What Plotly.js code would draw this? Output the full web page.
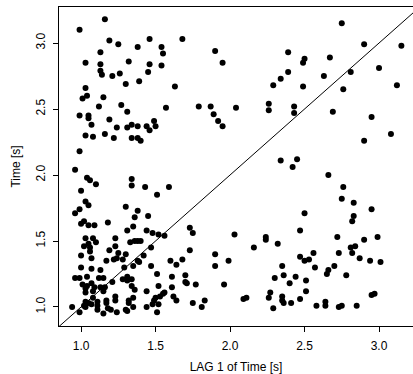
<!DOCTYPE html>
<html>
<head>
<meta charset="utf-8">
<script src="https://cdn.plot.ly/plotly-3.0.1.min.js"></script>
<style>
html,body{margin:0;padding:0;background:#fff;overflow:hidden;}
#chart{width:413px;height:374px;}
</style>
</head>
<body>
<div id="chart"></div>
<script>
// Lag plot: x = previous time value, y = current time value (seconds)
var lagTime = [
1.16,0.99,1.19,1.25,1.46,1.38,1.13,1.03,1.13,1.32,1.46,1.13,1.14,1.21,1.26,1.45,1.30,1.39,1.03,1.04,
1.01,1.15,1.27,1.12,1.31,0.99,1.05,1.05,1.19,1.49,1.07,1.34,1.38,1.31,1.44,1.46,1.50,1.24,1.03,1.08,
1.16,1.22,1.34,1.38,1.40,0.99,1.68,1.54,1.55,1.54,1.90,1.95,1.63,1.57,1.79,1.87,1.89,1.92,1.95,2.04,
2.75,2.90,3.15,2.39,2.67,2.50,2.49,3.00,2.39,2.34,2.63,2.81,2.29,2.49,2.76,3.12,2.26,2.26,2.43,2.43,
2.69,2.95,3.08,2.90,2.34,2.45,2.42,2.66,0.96,1.04,1.06,1.10,1.00,1.34,1.34,1.43,1.59,1.51,1.03,1.05,
0.99,0.96,1.30,1.38,1.36,1.45,1.02,1.00,1.05,1.09,1.18,1.35,1.31,1.44,1.48,1.52,1.56,1.73,1.75,1.03,
1.08,1.10,1.05,1.02,1.06,1.23,1.23,1.19,1.33,1.36,1.38,1.40,1.47,1.73,1.30,1.42,1.38,1.39,1.35,1.29,
1.47,1.60,1.64,1.68,1.51,1.61,1.70,1.70,1.71,1.77,1.34,1.31,1.34,1.36,1.52,1.61,1.44,1.56,1.55,1.62,
1.64,1.53,1.50,1.49,1.52,1.48,1.44,1.51,1.32,1.35,1.32,1.35,1.30,1.75,
1.22,1.00,1.07,1.17,1.24,1.28,1.00,1.07,1.13,0.99,1.04,0.96,1.12,1.15,1.21,1.28,1.31,1.01,1.04,1.07,
1.09,1.13,1.03,1.15,1.16,1.08,1.03,1.23,1.23,1.17,1.08,1.03,1.07,1.02,1.03,0.94,1.11,1.11,0.99,1.18,
1.20,1.24,1.15,1.05,1.11,1.17,1.31,1.06,1.25,
2.76,2.75,2.83,2.83,2.82,2.95,2.50,2.47,2.72,2.90,2.99,2.03,2.24,2.24,2.32,2.16,2.56,2.47,2.50,2.53,
2.73,2.81,2.84,2.82,2.87,2.94,3.01,1.90,1.99,1.90,2.35,2.57,2.70,2.66,2.65,2.78,2.36,2.30,2.44,2.40,
2.51,1.96,2.51,2.27,2.26,2.35,2.35,2.36,2.41,2.47,2.09,2.11,1.83,1.81,2.29,2.58,2.64,2.64,2.73,2.75,
2.85,2.95,2.97
];
var time = [
3.18,3.10,3.02,2.99,3.03,2.97,2.93,2.85,2.84,2.86,2.84,2.79,2.76,2.75,2.77,2.78,2.69,2.71,2.66,2.60,
2.58,2.59,2.53,2.52,2.48,2.45,2.45,2.43,2.42,2.41,2.38,2.38,2.37,2.36,2.37,2.34,2.37,2.36,2.30,2.29,
2.31,2.28,2.28,2.28,2.26,2.18,3.03,2.97,2.92,2.83,2.94,2.85,2.67,2.51,2.52,2.52,2.46,2.41,2.37,2.51,
3.15,2.99,2.98,2.93,2.89,2.88,2.85,2.81,2.78,2.73,2.75,2.78,2.68,2.67,2.65,2.68,2.54,2.49,2.52,2.47,
2.48,2.44,2.31,2.26,2.11,2.12,2.06,2.00,2.04,1.98,1.96,1.93,1.88,1.97,1.92,1.91,1.91,1.85,1.80,1.77,
1.74,1.71,1.76,1.73,1.68,1.69,1.65,1.63,1.62,1.62,1.64,1.61,1.58,1.58,1.56,1.55,1.54,1.60,1.56,1.52,
1.52,1.49,1.48,1.46,1.45,1.52,1.46,1.43,1.49,1.50,1.50,1.50,1.45,1.43,1.40,1.39,1.35,1.34,1.31,1.30,
1.31,1.35,1.32,1.36,1.25,1.23,1.24,1.19,1.18,1.17,1.21,1.20,1.16,1.13,1.16,1.15,1.12,1.11,1.10,1.08,
1.05,1.08,1.07,1.05,1.02,1.02,1.00,0.96,1.05,1.07,1.03,1.00,0.98,1.03,
1.36,1.39,1.37,1.35,1.37,1.36,1.30,1.29,1.28,1.22,1.23,1.22,1.22,1.22,1.19,1.21,1.23,1.17,1.16,1.18,
1.15,1.15,1.14,1.12,1.15,1.12,1.11,1.08,1.05,1.05,1.07,1.04,1.02,1.01,1.00,1.00,1.01,0.98,0.96,0.99,
0.98,0.96,0.95,1.03,1.04,1.03,0.97,1.42,1.41,
1.91,1.82,1.79,1.69,1.65,1.74,1.71,1.58,1.53,1.51,1.53,1.55,1.53,1.51,1.48,1.45,1.41,1.38,1.35,1.36,
1.41,1.45,1.46,1.41,1.37,1.35,1.34,1.40,1.35,1.31,1.31,1.30,1.31,1.28,1.25,1.24,1.24,1.22,1.23,1.18,
1.20,1.17,1.12,1.11,1.07,1.08,1.05,1.03,1.03,1.06,1.06,1.07,1.05,1.00,0.99,1.01,1.04,1.01,1.00,1.01,
1.01,1.09,1.10
];
var tickValues = [1.0, 1.5, 2.0, 2.5, 3.0];
var tickLabels = ["1.0", "1.5", "2.0", "2.5", "3.0"];
var xTitle = "LAG 1 of Time [s]";
var yTitle = "Time [s]";

var xRange = [0.852, 3.228];
var yRange = [0.856, 3.273];

var trace = {
  x: lagTime,
  y: time,
  type: 'scatter',
  mode: 'markers',
  marker: {color: '#000', size: 6, line: {width: 0}},
  hoverinfo: 'skip'
};

var fontFam = 'Liberation Sans, Arial, Helvetica, sans-serif';
var layout = {
  width: 413,
  height: 374,
  margin: {l: 59, r: 0, t: 7, b: 48, pad: 0},
  paper_bgcolor: '#fff',
  plot_bgcolor: '#fff',
  showlegend: false,
  font: {family: fontFam, size: 12, color: '#000'},
  xaxis: {
    range: xRange,
    tickvals: tickValues,
    ticktext: tickLabels,
    ticks: 'outside',
    ticklen: 5,
    tickwidth: 1,
    tickcolor: '#000',
    ticklabelstandoff: 4,
    showline: true,
    linecolor: '#000',
    linewidth: 1,
    mirror: true,
    showgrid: false,
    zeroline: false,
    tickfont: {family: fontFam, size: 12, color: '#000'},
    title: {text: xTitle, font: {family: fontFam, size: 12, color: '#000'}, standoff: 10}
  },
  yaxis: {
    range: yRange,
    tickvals: tickValues,
    ticktext: tickLabels,
    tickangle: -90,
    ticks: 'outside',
    ticklen: 5,
    tickwidth: 1,
    tickcolor: '#000',
    ticklabelstandoff: 3,
    showline: true,
    linecolor: '#000',
    linewidth: 1,
    showgrid: false,
    zeroline: false,
    tickfont: {family: fontFam, size: 12, color: '#000'},
    title: {text: yTitle, font: {family: fontFam, size: 12, color: '#000'}, standoff: 11}
  },
  shapes: [{
    type: 'line', xref: 'x', yref: 'y',
    x0: xRange[0], y0: xRange[0], x1: yRange[1], y1: yRange[1],
    line: {color: '#000', width: 1}
  }]
};

Plotly.newPlot('chart', [trace], layout, {staticPlot: true, displayModeBar: false});
</script>
</body>
</html>
